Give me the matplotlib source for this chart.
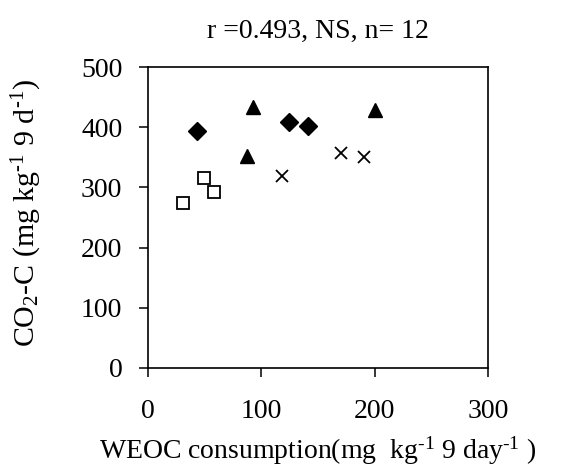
import matplotlib
matplotlib.use("Agg")
import matplotlib.pyplot as plt

# WEOC consumption vs CO2-C, four treatment groups
diamond_x = [43, 124, 141]
diamond_y = [394, 408, 402]

triangle_x = [93, 87, 200]
triangle_y = [434, 353, 429]

cross_x = [118, 170, 191]
cross_y = [319, 357, 351]

square_x = [49, 58, 31]
square_y = [316, 293, 274]

x_ticks = [0, 100, 200, 300]
y_ticks = [0, 100, 200, 300, 400, 500]

HY = "\u2010"  # plain hyphen in the superscripts, like the source

plt.rcParams.update({
    "font.family": ["Liberation Serif", "DejaVu Serif"],
    "mathtext.fontset": "custom",
    "mathtext.rm": "Liberation Serif",
    "mathtext.it": "Liberation Serif:italic",
    "font.size": 20,
})

fig = plt.figure(figsize=(5.71, 4.67), dpi=100)
ax = fig.add_axes([0.2592, 0.2120, 0.5954, 0.6445])

ax.plot(diamond_x, diamond_y, "D", color="black", ms=9.5, linestyle="none")
ax.plot(triangle_x, triangle_y, "^", color="black", ms=9.5, linestyle="none")
ax.plot(cross_x, cross_y, "x", color="black", ms=9, mew=1.3, linestyle="none")
ax.plot(square_x, square_y, "s", mfc="white", mec="black", ms=9, mew=1.3,
        linestyle="none")

ax.set_xlim(0, 300)
ax.set_ylim(0, 500)
ax.set_xticks(x_ticks)
ax.set_yticks(y_ticks)
ax.tick_params(direction="out", length=6.5, width=1.1, labelsize=20)
ax.tick_params(axis="x", pad=16)
ax.tick_params(axis="y", pad=12)
for sp in ax.spines.values():
    sp.set_linewidth(1.2)

ax.set_title("r =0.493, NS, n= 12", fontsize=20, pad=21)

xl = ax.set_xlabel(f"WEOC consumption(mg  kg$^{{\\mathrm{{{HY}1}}}}$ 9 day$^{{\\mathrm{{{HY}1}}}}$ )",
                   fontsize=20)
xl.set_va("baseline")
ax.xaxis.set_label_coords(0.5, -0.302)

yl = ax.set_ylabel(f"CO$_{{2}}$-C (mg kg$^{{\\mathrm{{{HY}1}}}}$ 9 d$^{{\\mathrm{{{HY}1}}}}$)",
                   fontsize=21.5)
yl.set_va("baseline")
ax.yaxis.set_label_coords(-0.332, 0.515)

fig.savefig("out.png", dpi=100)
